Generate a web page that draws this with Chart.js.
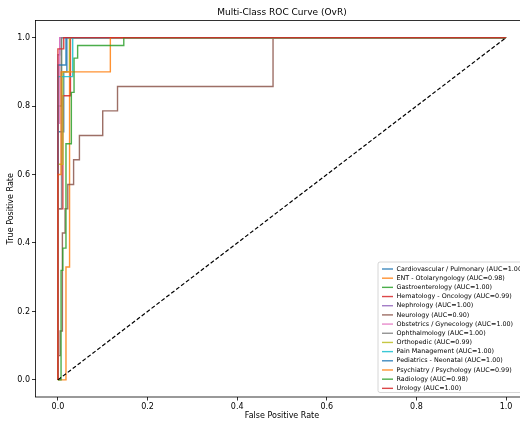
<!DOCTYPE html>
<html><head><meta charset="utf-8">
<script src="https://cdn.jsdelivr.net/npm/chart.js@4"></script>
<style>html,body{margin:0;padding:0;overflow:hidden;background:#fff;width:520px;height:421px}canvas{display:block}</style>
</head><body><canvas id="c" width="530" height="421"></canvas>
<script>
const chartTitle = 'Multi-Class ROC Curve (OvR)';
const xAxisLabel = 'False Positive Rate';
const yAxisLabel = 'True Positive Rate';
const categories = ['Cardiovascular / Pulmonary','ENT - Otolaryngology','Gastroenterology','Hematology - Oncology','Nephrology','Neurology','Obstetrics / Gynecology','Ophthalmology','Orthopedic','Pain Management','Pediatrics - Neonatal','Psychiatry / Psychology','Radiology','Urology'];
const aucValues = [1.00,0.98,1.00,0.99,1.00,0.90,1.00,1.00,0.99,1.00,1.00,0.99,0.98,1.00];
const xTickValues = [0,0.2,0.4,0.6,0.8,1.0];
const xTickLabels = ['0.0','0.2','0.4','0.6','0.8','1.0'];
const yTickValues = [0,0.2,0.4,0.6,0.8,1.0];
const yTickLabels = ['0.0','0.2','0.4','0.6','0.8','1.0'];

const fprCardio = [0,0,0.013,0.013,0.02,0.02,1];
const tprCardio = [0,0.725,0.725,0.9,0.9,1,1];
const fprEnt = [0,0.018,0.018,0.026,0.026,1];
const tprEnt = [0,0,0.33,0.33,1,1];
const fprGastro = [0,0,0.008,0.008,1];
const tprGastro = [0,0.8,0.8,1,1];
const fprHemat = [0,0,0.011,0.011,0.028,0.028,1];
const tprHemat = [0,0.5,0.5,0.83,0.83,1,1];
const fprNephro = [0,0,0.004,0.004,1];
const tprNephro = [0,0.95,0.95,1,1];
const fprNeuro = [0,0,0.005,0.005,0.01,0.01,0.016,0.016,0.022,0.022,0.035,0.035,0.048,0.048,0.1,0.1,0.133,0.133,0.48,0.48,1];
const tprNeuro = [0,0.071,0.071,0.143,0.143,0.429,0.429,0.5,0.5,0.571,0.571,0.643,0.643,0.714,0.714,0.786,0.786,0.857,0.857,1,1];
const fprObst = [0,0,0.004,0.004,1];
const tprObst = [0,0.75,0.75,1,1];
const fprOphth = [0,0,0.008,0.008,1];
const tprOphth = [0,0.5,0.5,1,1];
const fprOrtho = [0,0,0.011,0.011,0.026,0.026,1];
const tprOrtho = [0,0.63,0.63,0.9,0.9,1,1];
const fprPain = [0,0,0.033,0.033,1];
const tprPain = [0,0.886,0.886,1,1];
const fprPedia = [0,0,0.018,0.018,1];
const tprPedia = [0,0.92,0.92,1,1];
const fprPsych = [0,0,0.007,0.007,0.117,0.117,1];
const tprPsych = [0,0.6,0.6,0.9,0.9,1,1];
const fprRadio = [0,0.007,0.007,0.011,0.011,0.018,0.018,0.03,0.03,0.036,0.036,0.044,0.044,0.147,0.147,1];
const tprRadio = [0,0,0.32,0.32,0.385,0.385,0.69,0.69,0.84,0.84,0.94,0.94,0.977,0.977,1,1];
const fprUro = [0,0,0.013,0.013,1];
const tprUro = [0,0.967,0.967,1,1];
const diagX = [0,1];
const diagY = [0,1];

const fprList = [fprCardio,fprEnt,fprGastro,fprHemat,fprNephro,fprNeuro,fprObst,fprOphth,fprOrtho,fprPain,fprPedia,fprPsych,fprRadio,fprUro];
const tprList = [tprCardio,tprEnt,tprGastro,tprHemat,tprNephro,tprNeuro,tprObst,tprOphth,tprOrtho,tprPain,tprPedia,tprPsych,tprRadio,tprUro];
const palette = ['31,119,180','255,127,14','44,160,44','214,39,40','148,103,189','140,86,75','227,119,194','127,127,127','188,189,34','23,190,207'];
const FONT = 'DejaVu Sans';

const datasets = categories.map((name,i)=>({
  label: name + ' (AUC=' + aucValues[i].toFixed(2) + ')',
  data: fprList[i].map((x,k)=>({x:x,y:tprList[i][k]})),
  borderColor: 'rgba(' + palette[i%10] + ',0.85)',
  borderWidth: 1.4,
  pointRadius: 0,
  showLine: true,
  fill: false,
  tension: 0,
  order: -i
}));
datasets.push({
  label: 'diag',
  data: diagX.map((x,k)=>({x:x,y:diagY[k]})),
  borderColor: '#000',
  borderWidth: 1.2,
  borderDash: [4,2.2],
  pointRadius: 0,
  showLine: true,
  fill: false,
  order: -100
});

const framePlugin = {
  id: 'frame',
  afterDraw(chart){
    const ctx = chart.ctx, a = chart.chartArea;
    ctx.save();
    ctx.strokeStyle = '#000';
    ctx.lineWidth = 0.8;
    ctx.strokeRect(a.left, a.top, a.right-a.left, a.bottom-a.top);
    ctx.fillStyle = '#000';
    ctx.font = '9px "' + FONT + '"';
    ctx.textAlign = 'center';
    ctx.textBaseline = 'middle';
    ctx.fillText(chartTitle, (a.left+a.right)/2, 13);
    const bx = 378, by = 262, bw = 220, bh = 130.5, r = 2;
    ctx.beginPath();
    ctx.moveTo(bx+r,by); ctx.lineTo(bx+bw-r,by); ctx.quadraticCurveTo(bx+bw,by,bx+bw,by+r);
    ctx.lineTo(bx+bw,by+bh-r); ctx.quadraticCurveTo(bx+bw,by+bh,bx+bw-r,by+bh);
    ctx.lineTo(bx+r,by+bh); ctx.quadraticCurveTo(bx,by+bh,bx,by+bh-r);
    ctx.lineTo(bx,by+r); ctx.quadraticCurveTo(bx,by,bx+r,by);
    ctx.closePath();
    ctx.fillStyle = 'rgba(255,255,255,0.8)';
    ctx.fill();
    ctx.strokeStyle = '#cccccc';
    ctx.lineWidth = 0.8;
    ctx.stroke();
    ctx.font = '6.4px "' + FONT + '"';
    ctx.textAlign = 'left';
    chart.data.datasets.forEach((ds,i)=>{
      if (i >= categories.length) return;
      const y = 269 + i*9.18;
      ctx.strokeStyle = ds.borderColor;
      ctx.lineWidth = 1.4;
      ctx.beginPath(); ctx.moveTo(382,y); ctx.lineTo(393,y); ctx.stroke();
      ctx.fillStyle = '#000';
      ctx.fillText(ds.label, 396.5, y);
    });
    ctx.restore();
  }
};

new Chart(document.getElementById('c'), {
  type: 'scatter',
  data: { datasets },
  plugins: [framePlugin],
  options: {
    responsive: false,
    devicePixelRatio: 1,
    animation: false,
    layout: { padding: { top: 20.5, right: 1.5, left: 0, bottom: 0 } },
    plugins: { legend: { display: false }, tooltip: { enabled: false }, title: { display: false } },
    scales: {
      x: {
        type: 'linear', min: -0.05, max: 1.05,
        afterBuildTicks: s => { s.ticks = xTickValues.map(v=>({value:v})); },
        afterFit: s => { s.height = 24; },
        ticks: { callback: (v,i)=>xTickLabels[i], font: { family: FONT, size: 8 }, color: '#000', padding: 2, maxRotation: 0, autoSkip: false },
        grid: { drawOnChartArea: false, color: '#000', tickLength: 3.5, lineWidth: 0.8 },
        border: { display: false },
        title: { display: true, text: xAxisLabel, font: { family: FONT, size: 8 }, color: '#000', padding: { top: 0, bottom: 0.5 } }
      },
      y: {
        type: 'linear', min: -0.05, max: 1.05,
        afterBuildTicks: s => { s.ticks = yTickValues.map(v=>({value:v})); },
        afterFit: s => { s.width = 35.5; },
        ticks: { callback: (v,i)=>yTickLabels[i], font: { family: FONT, size: 8 }, color: '#000', padding: 2, autoSkip: false },
        grid: { drawOnChartArea: false, color: '#000', tickLength: 3.5, lineWidth: 0.8 },
        border: { display: false },
        title: { display: true, text: yAxisLabel, font: { family: FONT, size: 8 }, color: '#000', padding: { top: 6, bottom: 0 } }
      }
    }
  }
});
</script></body></html>
